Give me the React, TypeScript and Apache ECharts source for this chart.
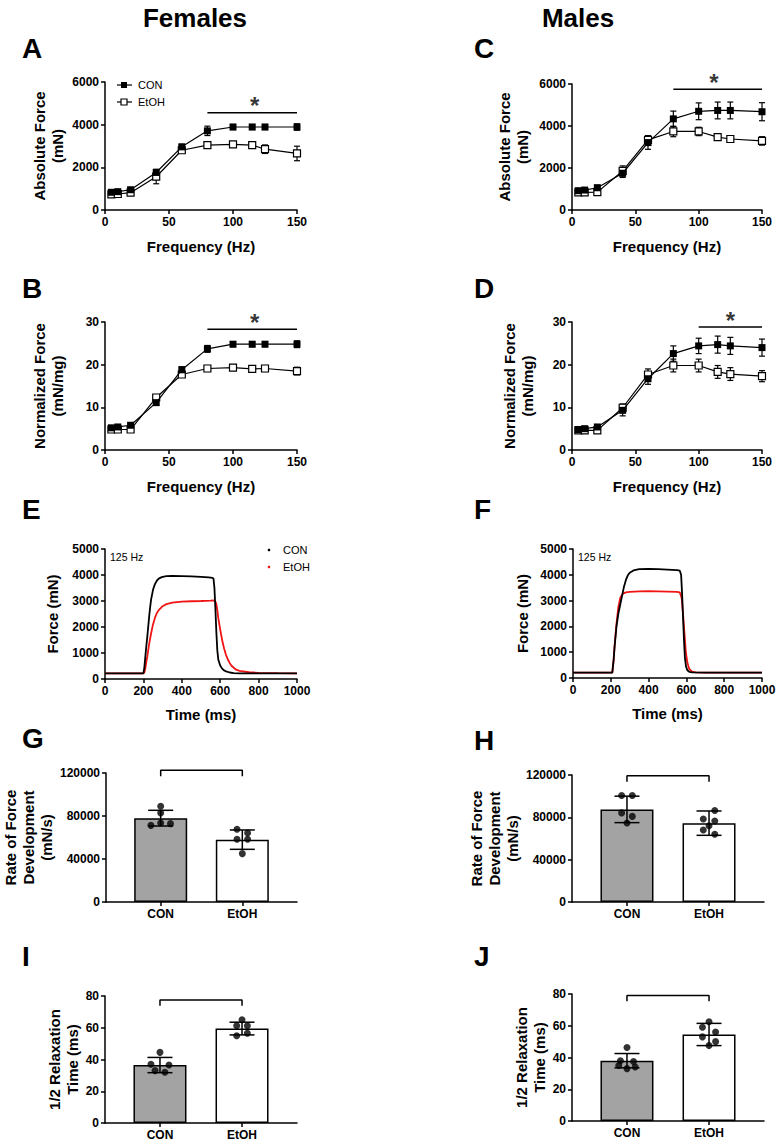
import React, { useEffect, useRef } from "react";
import * as echarts from "echarts";

const FONT = '"Liberation Sans", Arial, Helvetica, sans-serif';

// ---------------- data ----------------
const FREQ = [5, 10, 20, 40, 60, 80, 100, 115, 125, 150];

const A_CON = [830, 860, 950, 1760, 2960, 3710, 3890, 3890, 3890, 3890];
const A_CON_SD = [90, 90, 100, 150, 120, 220, 120, 120, 120, 150];
const A_ETOH = [730, 750, 810, 1560, 2800, 3040, 3080, 3040, 2850, 2650];
const A_ETOH_SD = [80, 80, 100, 330, 100, 130, 120, 150, 200, 340];

const C_CON = [920, 950, 1060, 1750, 3210, 4340, 4700, 4740, 4740, 4680];
const C_CON_SD = [100, 100, 120, 200, 320, 370, 400, 400, 400, 430];
const C_ETOH = [840, 840, 850, 1860, 3340, 3740, 3740, 3470, 3380, 3290];
const C_ETOH_SD = [80, 80, 100, 240, 200, 250, 200, 150, 150, 200];

const B_CON = [5.2, 5.4, 5.8, 11.1, 18.8, 23.7, 24.8, 24.8, 24.8, 24.8];
const B_CON_SD = [0.4, 0.4, 0.4, 0.6, 0.7, 0.8, 0.6, 0.6, 0.6, 0.8];
const B_ETOH = [4.8, 4.8, 4.8, 12.3, 17.7, 19.1, 19.3, 19.0, 19.1, 18.5];
const B_ETOH_SD = [0.4, 0.4, 0.4, 0.7, 0.6, 0.7, 0.6, 0.7, 0.7, 0.9];

const D_CON = [4.8, 5.0, 5.4, 9.3, 16.7, 22.6, 24.4, 24.7, 24.4, 24.0];
const D_CON_SD = [0.4, 0.4, 0.5, 1.3, 1.3, 1.8, 1.8, 2.0, 2.0, 2.0];
const D_ETOH = [4.6, 4.6, 4.6, 9.9, 17.7, 19.8, 19.8, 18.3, 17.8, 17.3];
const D_ETOH_SD = [0.4, 0.4, 0.4, 0.9, 1.3, 1.5, 1.5, 1.5, 1.5, 1.3];

// significance lines: [from Hz, to Hz, level, star Hz]
const SIG_A = [80, 150, 4560, 117];
const SIG_C = [80, 150, 5750, 112];
const SIG_B = [80, 150, 28.3, 117];
const SIG_D = [100, 150, 28.8, 125];

// force traces at 125 Hz
const E_CON_T = [0, 100, 200, 205, 210, 215, 220, 225, 230, 235, 240, 250, 260, 270, 280, 290, 300, 320, 350, 400, 450, 500, 540, 560, 565, 570, 575, 580, 585, 590, 600, 610, 620, 635, 650, 670, 700, 800, 900, 1000];
const E_CON = [220, 220, 220, 450, 850, 1250, 1600, 2000, 2400, 2750, 3050, 3430, 3650, 3780, 3860, 3900, 3930, 3955, 3965, 3960, 3945, 3930, 3910, 3890, 3860, 3500, 2700, 1800, 1100, 750, 520, 400, 330, 280, 250, 225, 220, 220, 220, 220];
const E_ETOH_T = [0, 100, 200, 205, 210, 215, 220, 225, 230, 240, 250, 260, 270, 280, 300, 320, 350, 400, 450, 500, 550, 565, 575, 580, 585, 590, 600, 610, 620, 630, 640, 650, 660, 680, 700, 750, 800, 900, 1000];
const E_ETOH = [220, 220, 220, 250, 400, 650, 850, 1100, 1350, 1750, 2100, 2350, 2540, 2650, 2800, 2880, 2940, 2975, 2990, 3000, 3015, 3020, 2980, 2880, 2650, 2350, 1900, 1500, 1180, 930, 750, 610, 500, 370, 310, 260, 235, 225, 220];

const F_CON_T = [0, 100, 200, 208, 215, 220, 230, 240, 250, 260, 270, 280, 290, 300, 320, 350, 400, 450, 500, 550, 565, 572, 577, 582, 587, 592, 598, 605, 615, 630, 700, 800, 900, 1000];
const F_CON = [210, 210, 210, 210, 700, 1200, 2000, 2500, 2850, 3200, 3550, 3800, 3980, 4080, 4170, 4220, 4230, 4220, 4200, 4180, 4160, 4000, 3300, 2400, 1500, 800, 450, 300, 240, 215, 210, 210, 210, 210];
const F_ETOH_T = [0, 100, 200, 208, 215, 220, 230, 240, 250, 260, 270, 280, 300, 350, 400, 450, 500, 550, 565, 575, 582, 590, 597, 605, 615, 630, 650, 700, 800, 900, 1000];
const F_ETOH = [210, 210, 210, 210, 700, 1250, 2100, 2750, 3100, 3230, 3290, 3320, 3340, 3360, 3370, 3360, 3350, 3340, 3320, 3100, 2500, 1700, 1000, 600, 350, 250, 215, 210, 210, 210, 210];

// bar panels
const BAR_CATS = ["CON", "EtOH"];
const G_MEAN = [78000, 58000];
const G_SD = [7300, 9000];
const G_CON_PTS = [89000, 82800, 73500, 71300, 72900];
const G_ETOH_PTS = [67600, 64200, 58300, 58300, 45000];
const G_BRACKET = [117000, 122500];

const H_MEAN = [87500, 74500];
const H_SD = [12500, 11500];
const H_CON_PTS = [100700, 100700, 84200, 80900, 74700];
const H_ETOH_PTS = [86500, 78500, 76500, 72000, 68000, 64000];
const H_BRACKET = [113700, 119300];

const I_MEAN = [36.5, 59.5];
const I_SD = [4.8, 4];
const I_CON_PTS = [44.5, 37, 36.5, 33, 32];
const I_ETOH_PTS = [65, 61.3, 61.3, 56.5, 55];
const I_BRACKET = [73.9, 77.5];

const J_MEAN = [38, 54.5];
const J_SD = [4.5, 7];
const J_CON_PTS = [46.3, 38, 37.5, 35, 34, 33];
const J_ETOH_PTS = [62.5, 59, 56, 53, 50, 47.5];
const J_BRACKET = [75.4, 79];

// ---------------- layout (not data) ----------------
const JIT_G_CON = [0, 0, 0, -0.12, 0.12];
const JIT_G_ETOH = [-0.065, 0.065, -0.065, 0.065, 0];
const JIT_H_CON = [-0.065, 0.065, -0.065, 0.065, 0];
const JIT_H_ETOH = [0.07, -0.07, 0.07, 0, -0.07, 0.07];
const JIT_I_CON = [0, -0.11, 0.11, -0.06, 0.06];
const JIT_I_ETOH = [0, -0.065, 0.065, 0.065, -0.065];
const JIT_J_CON = [0, -0.08, 0.08, -0.1, 0.1, 0];
const JIT_J_ETOH = [0, -0.08, 0.08, -0.08, 0.08, 0];

const GRIDS = [
  { left: 105, top: 82, width: 192, height: 128 }, // 0 A
  { left: 572, top: 84, width: 190, height: 126 }, // 1 C
  { left: 105, top: 322, width: 192, height: 128 }, // 2 B
  { left: 572, top: 322, width: 190, height: 128 }, // 3 D
  { left: 105, top: 549, width: 192, height: 130 }, // 4 E
  { left: 573, top: 549, width: 189, height: 129 }, // 5 F
  { left: 105, top: 773, width: 192, height: 129 }, // 6 G
  { left: 572, top: 775, width: 192, height: 127 }, // 7 H
  { left: 105, top: 996, width: 192, height: 127 }, // 8 I
  { left: 572, top: 994, width: 192, height: 127 }, // 9 J
];

const AX_LINE = { color: "#000", width: 1.5 };
const TICK_LABEL = { color: "#000", fontSize: 12, fontWeight: "bold", fontFamily: FONT, margin: 6 };
const NAME_STYLE = { color: "#000", fontSize: 15, fontWeight: "bold", fontFamily: FONT, lineHeight: 18 };

function valAxis(gridIndex: number, min: number, max: number, interval: number, name: string, nameGap: number) {
  return {
    type: "value",
    gridIndex,
    min,
    max,
    interval,
    name,
    nameLocation: "middle",
    nameGap,
    nameTextStyle: NAME_STYLE,
    axisLine: { show: true, onZero: false, lineStyle: AX_LINE },
    axisTick: { show: true, length: 4, lineStyle: AX_LINE },
    axisLabel: { ...TICK_LABEL, formatter: (v: number) => String(v) },
    splitLine: { show: false },
  };
}

function catAxis(gridIndex: number) {
  return {
    type: "value",
    gridIndex,
    min: -0.67,
    max: 1.67,
    axisLine: { show: true, onZero: false, lineStyle: AX_LINE },
    axisTick: { show: true, length: 4, lineStyle: AX_LINE, customValues: [0, 1] },
    axisLabel: {
      ...TICK_LABEL,
      customValues: [0, 1],
      formatter: (v: number) => BAR_CATS[Math.round(v)] ?? "",
    },
    splitLine: { show: false },
  };
}

function errRender(cap: number, lw: number) {
  return (params: any, api: any) => {
    const x = api.value(0);
    const a = api.coord([x, api.value(1)]);
    const b = api.coord([x, api.value(2)]);
    const st = { stroke: "#000", lineWidth: lw };
    return {
      type: "group",
      children: [
        { type: "line", shape: { x1: a[0], y1: a[1], x2: b[0], y2: b[1] }, style: st },
        { type: "line", shape: { x1: a[0] - cap, y1: a[1], x2: a[0] + cap, y2: a[1] }, style: st },
        { type: "line", shape: { x1: b[0] - cap, y1: b[1], x2: b[0] + cap, y2: b[1] }, style: st },
      ],
    };
  };
}

function errData(xs: number[], m: number[], sd: number[]) {
  return xs.map((x, i) => [x, m[i] - sd[i], m[i] + sd[i]]);
}

function addLinePanel(series: any[], idx: number, con: number[], conSd: number[], et: number[], etSd: number[], sig: number[]) {
  const ax = { xAxisIndex: idx, yAxisIndex: idx };
  series.push({ type: "custom", ...ax, renderItem: errRender(3, 1.2), data: errData(FREQ, et, etSd), encode: { x: 0, y: [1, 2] }, z: 2, silent: true });
  series.push({ type: "custom", ...ax, renderItem: errRender(3, 1.2), data: errData(FREQ, con, conSd), encode: { x: 0, y: [1, 2] }, z: 2, silent: true });
  series.push({
    type: "line", name: "EtOH", ...ax, data: FREQ.map((f, i) => [f, et[i]]),
    symbol: "rect", symbolSize: 7,
    itemStyle: { color: "#fff", borderColor: "#000", borderWidth: 1.2 },
    lineStyle: { color: "#000", width: 1.2 }, z: 3, silent: true,
  });
  series.push({
    type: "line", name: "CON", ...ax, data: FREQ.map((f, i) => [f, con[i]]),
    symbol: "rect", symbolSize: 7,
    itemStyle: { color: "#000" },
    lineStyle: { color: "#000", width: 1.2 }, z: 4, silent: true,
  });
  series.push({
    type: "line", ...ax, data: [[sig[0], sig[2]], [sig[1], sig[2]]],
    symbol: "none", lineStyle: { color: "#000", width: 1.5 }, clip: false, silent: true, z: 5,
  });
  series.push({
    type: "scatter", ...ax, data: [[sig[3], sig[2]]], symbolSize: 1, itemStyle: { color: "rgba(0,0,0,0)" },
    label: { show: true, formatter: "*", position: "inside", offset: [0, -7], fontSize: 24, fontWeight: "bold", color: "#000", fontFamily: FONT },
    clip: false, silent: true, z: 6,
  });
}

function addTracePanel(series: any[], idx: number, conT: number[], con: number[], etT: number[], et: number[]) {
  const ax = { xAxisIndex: idx, yAxisIndex: idx };
  series.push({
    type: "line", name: "EtOH", ...ax, data: etT.map((t, i) => [t, et[i]]), showSymbol: false, symbol: "none",
    lineStyle: { color: "#f01414", width: 1.8 }, z: 2, silent: true,
  });
  series.push({
    type: "line", name: "CON", ...ax, data: conT.map((t, i) => [t, con[i]]), showSymbol: false, symbol: "none",
    lineStyle: { color: "#000", width: 1.8 }, z: 3, silent: true,
  });
}

function addBarPanel(series: any[], idx: number, mean: number[], sd: number[], conPts: number[], etPts: number[], jc: number[], je: number[], bracket: number[]) {
  const ax = { xAxisIndex: idx, yAxisIndex: idx };
  series.push({
    type: "bar", ...ax, barWidth: 53,
    data: [
      { value: [0, mean[0]], itemStyle: { color: "#a3a3a3" } },
      { value: [1, mean[1]], itemStyle: { color: "#ffffff" } },
    ],
    itemStyle: { borderColor: "#000", borderWidth: 1.5 }, z: 2, silent: true,
  });
  series.push({ type: "custom", ...ax, renderItem: errRender(12.5, 1.5), data: errData([0, 1], mean, sd), encode: { x: 0, y: [1, 2] }, z: 3, silent: true });
  series.push({
    type: "scatter", ...ax, symbolSize: 7, itemStyle: { color: "#000" },
    data: [...conPts.map((v, i) => [0 + jc[i], v]), ...etPts.map((v, i) => [1 + je[i], v])],
    z: 4, silent: true,
  });
  series.push({
    type: "line", ...ax, data: [[0, bracket[0]], [0, bracket[1]], [1, bracket[1]], [1, bracket[0]]],
    symbol: "none", lineStyle: { color: "#000", width: 1.5 }, clip: false, silent: true, z: 5,
  });
}

function txt(text: string, x: number, y: number, size: number, bold = true, align = "center", fill = "#000") {
  return {
    type: "text", x, y, silent: true,
    style: { text, fontSize: size, fontWeight: bold ? "bold" : "normal", fontFamily: FONT, fill, align, verticalAlign: "middle" },
  };
}

export default function App() {
  const ref = useRef<HTMLDivElement>(null);
  useEffect(() => {
    document.body.style.margin = "0";
    if (!ref.current) return;
    const chart = echarts.init(ref.current, null, { renderer: "svg" });

    const xAxes: any[] = [];
    const yAxes: any[] = [];
    // A, C
    xAxes.push(valAxis(0, 0, 150, 50, "Frequency (Hz)", 27));
    yAxes.push(valAxis(0, 0, 6000, 2000, "Absolute Force\n(mN)", 39));
    xAxes.push(valAxis(1, 0, 150, 50, "Frequency (Hz)", 27));
    yAxes.push(valAxis(1, 0, 6000, 2000, "Absolute Force\n(mN)", 41));
    // B, D
    xAxes.push(valAxis(2, 0, 150, 50, "Frequency (Hz)", 27));
    yAxes.push(valAxis(2, 0, 30, 10, "Normalized Force\n(mN/mg)", 39));
    xAxes.push(valAxis(3, 0, 150, 50, "Frequency (Hz)", 27));
    yAxes.push(valAxis(3, 0, 30, 10, "Normalized Force\n(mN/mg)", 36));
    // E, F
    xAxes.push(valAxis(4, 0, 1000, 200, "Time (ms)", 26));
    yAxes.push(valAxis(4, 0, 5000, 1000, "Force (mN)", 44));
    xAxes.push(valAxis(5, 0, 1000, 200, "Time (ms)", 26));
    yAxes.push(valAxis(5, 0, 5000, 1000, "Force (mN)", 42));
    // G, H
    xAxes.push(catAxis(6));
    yAxes.push(valAxis(6, 0, 120000, 40000, "Rate of Force\nDevelopment\n(mN/s)", 51));
    xAxes.push(catAxis(7));
    yAxes.push(valAxis(7, 0, 120000, 40000, "Rate of Force\nDevelopment\n(mN/s)", 51));
    // I, J
    xAxes.push(catAxis(8));
    yAxes.push(valAxis(8, 0, 80, 20, "1/2 Relaxation\nTime (ms)", 23));
    xAxes.push(catAxis(9));
    yAxes.push(valAxis(9, 0, 80, 20, "1/2 Relaxation\nTime (ms)", 21));

    const series: any[] = [];
    addLinePanel(series, 0, A_CON, A_CON_SD, A_ETOH, A_ETOH_SD, SIG_A);
    addLinePanel(series, 1, C_CON, C_CON_SD, C_ETOH, C_ETOH_SD, SIG_C);
    addLinePanel(series, 2, B_CON, B_CON_SD, B_ETOH, B_ETOH_SD, SIG_B);
    addLinePanel(series, 3, D_CON, D_CON_SD, D_ETOH, D_ETOH_SD, SIG_D);
    addTracePanel(series, 4, E_CON_T, E_CON, E_ETOH_T, E_ETOH);
    addTracePanel(series, 5, F_CON_T, F_CON, F_ETOH_T, F_ETOH);
    addBarPanel(series, 6, G_MEAN, G_SD, G_CON_PTS, G_ETOH_PTS, JIT_G_CON, JIT_G_ETOH, G_BRACKET);
    addBarPanel(series, 7, H_MEAN, H_SD, H_CON_PTS, H_ETOH_PTS, JIT_H_CON, JIT_H_ETOH, H_BRACKET);
    addBarPanel(series, 8, I_MEAN, I_SD, I_CON_PTS, I_ETOH_PTS, JIT_I_CON, JIT_I_ETOH, I_BRACKET);
    addBarPanel(series, 9, J_MEAN, J_SD, J_CON_PTS, J_ETOH_PTS, JIT_J_CON, JIT_J_ETOH, J_BRACKET);

    const graphic: any[] = [
      txt("Females", 195, 18, 26),
      txt("Males", 578, 18, 26),
      txt("A", 22, 48, 28, true, "left"),
      txt("B", 22, 288, 28, true, "left"),
      txt("C", 474, 48, 28, true, "left"),
      txt("D", 474, 288, 28, true, "left"),
      txt("E", 22, 509, 28, true, "left"),
      txt("F", 474, 509, 28, true, "left"),
      txt("G", 22, 738, 28, true, "left"),
      txt("H", 474, 740, 28, true, "left"),
      txt("I", 22, 956, 28, true, "left"),
      txt("J", 474, 956, 28, true, "left"),
      // legend A
      { type: "line", silent: true, shape: { x1: 117, y1: 85, x2: 132, y2: 85 }, style: { stroke: "#000", lineWidth: 1.2 } },
      { type: "rect", silent: true, shape: { x: 121, y: 82, width: 6, height: 6 }, style: { fill: "#000" } },
      txt("CON", 138, 85, 11, false, "left"),
      { type: "line", silent: true, shape: { x1: 117, y1: 102, x2: 132, y2: 102 }, style: { stroke: "#000", lineWidth: 1.2 } },
      { type: "rect", silent: true, shape: { x: 121, y: 99, width: 6, height: 6 }, style: { fill: "#fff", stroke: "#000", lineWidth: 1.2 } },
      txt("EtOH", 138, 102, 11, false, "left"),
      // legend E
      { type: "circle", silent: true, shape: { cx: 269, cy: 550, r: 1.3 }, style: { fill: "#000" } },
      txt("CON", 283, 550, 11, false, "left"),
      { type: "circle", silent: true, shape: { cx: 269, cy: 567, r: 1.3 }, style: { fill: "#f01414" } },
      txt("EtOH", 283, 567, 11, false, "left"),
      txt("125 Hz", 110, 557, 10.5, false, "left"),
      txt("125 Hz", 578, 557, 10.5, false, "left"),
    ];

    chart.setOption({
      animation: false,
      backgroundColor: "#fff",
      textStyle: { fontFamily: FONT },
      grid: GRIDS.map((g) => ({ ...g, containLabel: false })),
      xAxis: xAxes,
      yAxis: yAxes,
      series,
      graphic,
    });
    return () => chart.dispose();
  }, []);
  return <div ref={ref} style={{ width: 780, height: 1143 }} />;
}
